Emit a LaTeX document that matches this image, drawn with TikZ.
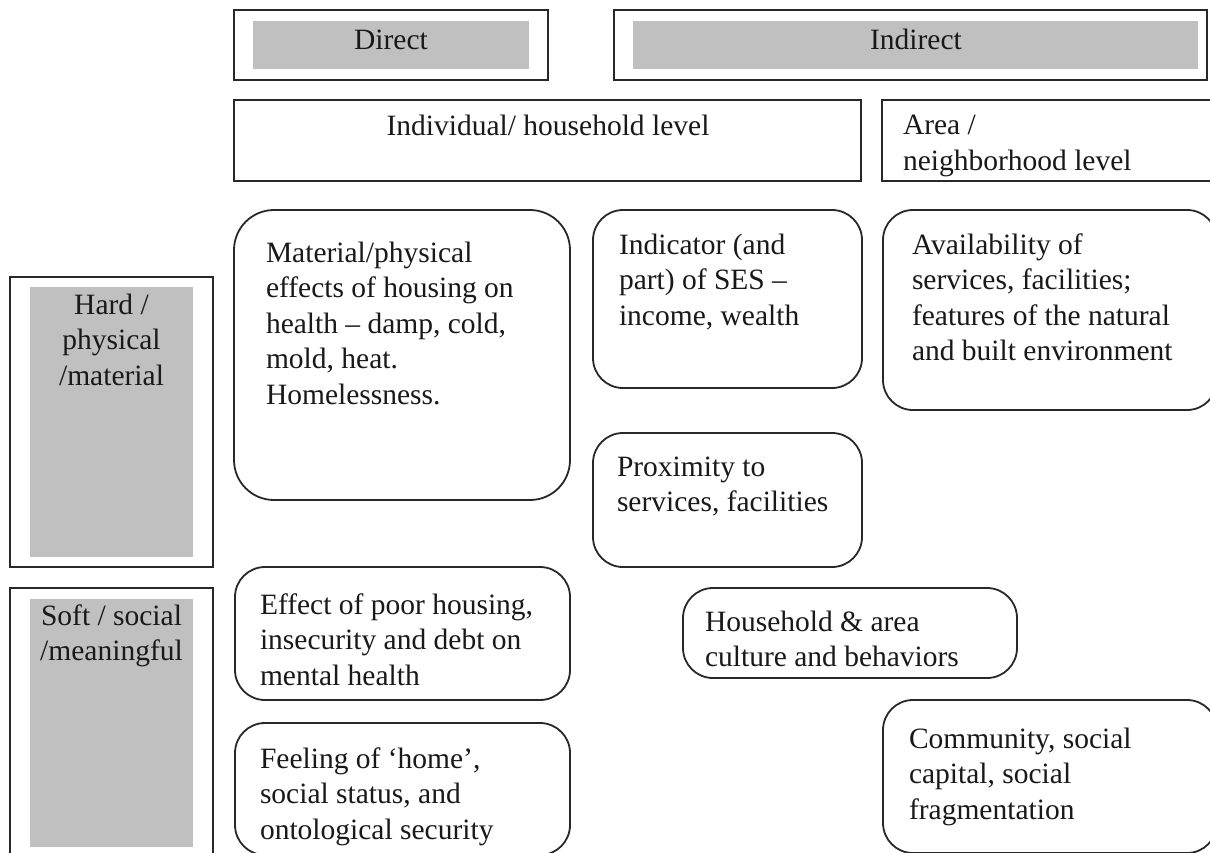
\documentclass[tikz,border=0pt]{standalone}
\usepackage{fontspec}
\setmainfont{Liberation Serif}
\definecolor{shadegray}{RGB}{192,192,192}
\definecolor{linegray}{RGB}{40,40,40}
\tikzset{
  frame/.style={draw=linegray, line width=1.8pt, inner sep=0pt, outer sep=0pt, rectangle},
  rbox/.style={frame, rounded corners=30pt},
  bigrbox/.style={frame, rounded corners=40pt},
  shadebox/.style={fill=shadegray, inner sep=0pt, outer sep=0pt, rectangle},
  txt/.style={font=\fontsize{29.5}{35.5}\selectfont, inner sep=0pt, outer sep=0pt, text=black!90},
  % base anchor of a multi-line node = baseline of its last line
  ltxt/.style={txt, align=left, anchor=base west},
  ctxt/.style={txt, align=center, anchor=base}
}
\begin{document}
\begin{tikzpicture}[x=1pt,y=-1pt]
\useasboundingbox (0,0) rectangle (1210,852);
\fill[white] (0,0) rectangle (1210,852);
% column headers
\node[frame, minimum width=314pt, minimum height=70pt] (directO) at (391,45) {};
\node[shadebox, minimum width=276pt, minimum height=48pt] (directG) at (391,45) {};
\node[ctxt] (directT) at (391,49) {Direct};
\node[frame, minimum width=593pt, minimum height=70pt] (indirectO) at (910.5,45) {};
\node[shadebox, minimum width=565pt, minimum height=48pt] (indirectG) at (915.5,45) {};
\node[ctxt] (indirectT) at (916,49) {Indirect};
% level headers
\node[frame, minimum width=627pt, minimum height=81pt] (indiv) at (547.5,140.5) {};
\node[ctxt] (indivT) at (548,135) {Individual/ household level};
\node[frame, minimum width=336pt, minimum height=81pt] (area) at (1050,140.5) {};
\node[ltxt] (areaT) at (903,170) {Area /\\neighborhood level};
% row headers
\node[frame, minimum width=203pt, minimum height=290pt] (hardO) at (111.5,422) {};
\node[shadebox, minimum width=163pt, minimum height=270pt] (hardG) at (111.5,422) {};
\node[ctxt] (hardT) at (111.5,385) {Hard /\\physical\\/material};
\node[frame, minimum width=203pt, minimum height=282pt] (softO) at (111.5,729) {};
\node[shadebox, minimum width=163pt, minimum height=248pt] (softG) at (111.5,723) {};
\node[ctxt] (softT) at (111.5,660.5) {Soft / social\\/meaningful};
% content boxes
\node[bigrbox, minimum width=336pt, minimum height=290pt] (material) at (402,355) {};
\node[ltxt] (materialT) at (266,404) {Material/physical\\effects of housing on\\health -- damp, cold,\\mold, heat.\\Homelessness.};
\node[rbox, minimum width=269pt, minimum height=178pt] (indicator) at (727.5,299) {};
\node[ltxt] (indicatorT) at (619,325) {Indicator (and\\part) of SES --\\income, wealth};
\node[rbox, minimum width=334pt, minimum height=200pt] (avail) at (1050,310) {};
\node[ltxt] (availT) at (912,360.5) {Availability of\\services, facilities;\\features of the natural\\and built environment};
\node[rbox, minimum width=269pt, minimum height=134pt] (prox) at (727.5,500) {};
\node[ltxt] (proxT) at (617,511.5) {Proximity to\\services, facilities};
\node[rbox, minimum width=335pt, minimum height=133pt] (effect) at (402.5,633.5) {};
\node[ltxt] (effectT) at (260,685) {Effect of poor housing,\\insecurity and debt on\\mental health};
\node[rbox, minimum width=334pt, minimum height=90pt] (household) at (850,633) {};
\node[ltxt] (householdT) at (705,666.5) {Household \& area\\culture and behaviors};
\node[rbox, minimum width=335pt, minimum height=132pt] (feeling) at (402.5,789) {};
\node[ltxt] (feelingT) at (260,839) {Feeling of `home',\\social status, and\\ontological security};
\node[rbox, minimum width=334pt, minimum height=153pt] (community) at (1050,776.5) {};
\node[ltxt] (communityT) at (909,819) {Community, social\\capital, social\\fragmentation};
\end{tikzpicture}
\end{document}
